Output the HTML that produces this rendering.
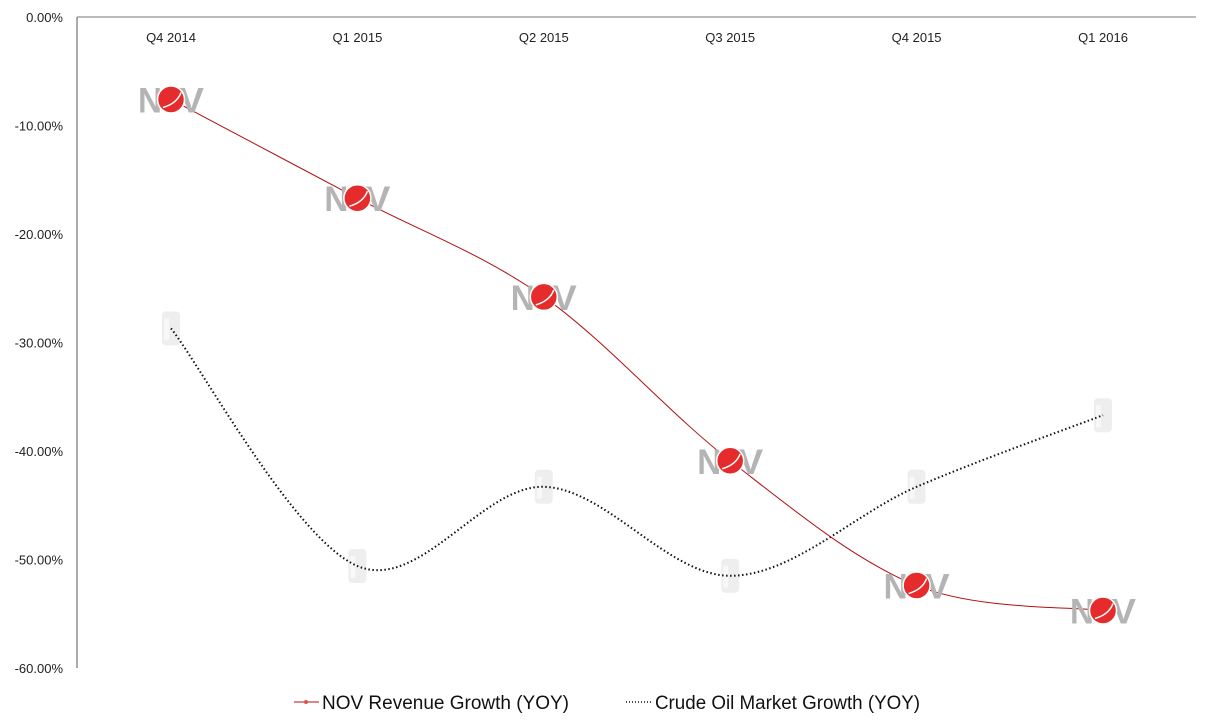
<!DOCTYPE html>
<html><head><meta charset="utf-8"><style>
html,body{margin:0;padding:0;background:#fff;}
svg{display:block;font-family:"Liberation Sans",sans-serif;}
</style></head><body>
<svg id="chart" width="1212" height="728" viewBox="0 0 1212 728"></svg>
<script>
const categories=["Q4 2014","Q1 2015","Q2 2015","Q3 2015","Q4 2015","Q1 2016"];
const novValues=[-7.6,-16.7,-25.8,-40.9,-52.4,-54.7];
const crudeValues=[-28.7,-50.6,-43.3,-51.5,-43.3,-36.7];
const yTicks=[0,-10,-20,-30,-40,-50,-60];
const yTickLabels=["0.00%","-10.00%","-20.00%","-30.00%","-40.00%","-50.00%","-60.00%"];

const NS="http://www.w3.org/2000/svg";
const svg=document.getElementById('chart');
const L=77,R=1196,T=17,B=668;
function x(i){return 171+i*186.4;}
function y(v){return T+(0-v)/60*(B-T);}
function mk(tag,attrs,parent){const e=document.createElementNS(NS,tag);for(const k in attrs)e.setAttribute(k,attrs[k]);(parent||svg).appendChild(e);return e;}

const axis=mk('g',{});


mk('line',{x1:L,y1:T,x2:L,y2:B,stroke:'#555','stroke-width':1},axis);
mk('line',{x1:L,y1:T,x2:R,y2:T,stroke:'#777','stroke-width':1},axis);
yTicks.forEach((t,i)=>{
  const tx=mk('text',{x:L-14,y:y(t)+5,'text-anchor':'end','font-size':13,fill:'#222'},axis);
  
  
  tx.textContent=yTickLabels[i];
});
categories.forEach((c,i)=>{
  const tx=mk('text',{x:x(i),y:42,'text-anchor':'middle','font-size':13,fill:'#222'});
  
  
  tx.textContent=c;
});
function smoothPath(vals){
  const p=vals.map((v,i)=>[x(i),y(v)]);
  let d='M'+p[0][0]+','+p[0][1];
  for(let i=0;i<p.length-1;i++){
    const p0=p[i-1]||p[i],p1=p[i],p2=p[i+1],p3=p[i+2]||p2;
    const c1=[p1[0]+(p2[0]-p0[0])/6,p1[1]+(p2[1]-p0[1])/6];
    const c2=[p2[0]-(p3[0]-p1[0])/6,p2[1]-(p3[1]-p1[1])/6];
    d+=' C'+c1+' '+c2+' '+p2;
  }
  return d;
}
crudeValues.forEach((v,i)=>{
  const g=mk('g',{});
  
  
  mk('rect',{x:x(i)-9,y:y(v)-17,width:18,height:34,rx:4,fill:'#eeeeee'},g);
  mk('rect',{x:x(i)-7,y:y(v)-10,width:5,height:22,fill:'#f8f8f8'},g);
});
const cl=mk('path',{d:smoothPath(crudeValues),fill:'none',stroke:'#111','stroke-width':2,'stroke-dasharray':'1.5,2.5'});


const nl=mk('path',{d:smoothPath(novValues),fill:'none',stroke:'#b01010','stroke-width':1});


novValues.forEach((v,i)=>{
  const g=mk('g',{});
  
  
  const cx=x(i),cy=y(v);
  const n=mk('text',{x:cx-33,y:cy+13,'font-size':35,'font-weight':'bold',fill:'#b4b4b4',textLength:24,lengthAdjust:'spacingAndGlyphs'},g);n.textContent='N';
  const vv=mk('text',{x:cx+8,y:cy+13,'font-size':35,'font-weight':'bold',fill:'#b4b4b4',textLength:25,lengthAdjust:'spacingAndGlyphs'},g);vv.textContent='V';
  mk('circle',{cx:cx,cy:cy,r:13.5,fill:'#e52b2b',stroke:'#fff','stroke-width':1.5},g);
  mk('path',{d:`M${cx-8},${cy+8} Q${cx+6},${cy+4} ${cx+10},${cy-7}`,fill:'none',stroke:'#fff','stroke-width':1.5},g);
});
const lg=mk('g',{});


const le1=mk('g',{},lg);


mk('line',{x1:294,y1:702,x2:319,y2:702,stroke:'#b01010','stroke-width':1},le1);
mk('circle',{cx:306,cy:702,r:2,fill:'#e05050'},le1);
const t1=mk('text',{x:322,y:709,'font-size':19,fill:'#111',textLength:247,lengthAdjust:'spacingAndGlyphs'},le1);t1.textContent='NOV Revenue Growth (YOY)';
const le2=mk('g',{},lg);


mk('line',{x1:626,y1:702,x2:653,y2:702,stroke:'#111','stroke-width':1.5,'stroke-dasharray':'1,2'},le2);
const t2=mk('text',{x:655,y:709,'font-size':19,fill:'#111',textLength:265,lengthAdjust:'spacingAndGlyphs'},le2);t2.textContent='Crude Oil Market Growth (YOY)';
</script>
</body></html>
